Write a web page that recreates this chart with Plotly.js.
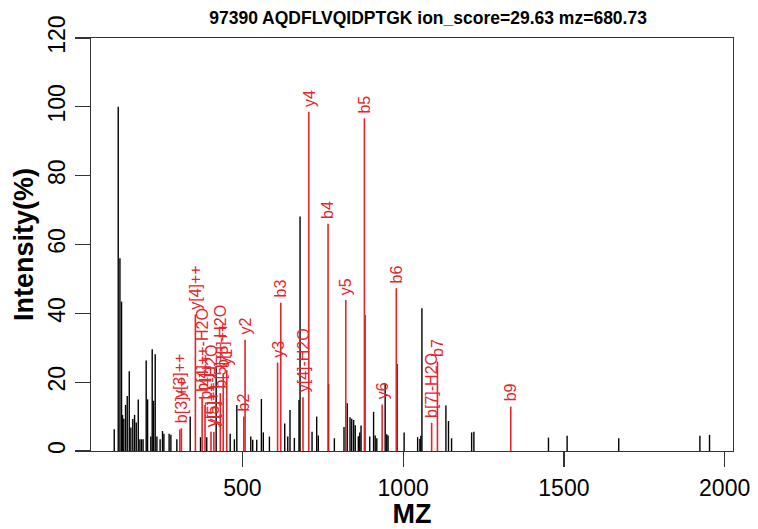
<!DOCTYPE html>
<html><head><meta charset="utf-8">
<script src="https://cdn.plot.ly/plotly-3.0.1.min.js"></script>
<style>html,body{margin:0;padding:0;background:#fff}#chart{width:758px;height:529px}</style>
</head><body><div id="chart"></div>
<script>
const titleText = '97390 AQDFLVQIDPTGK ion_score=29.63 mz=680.73';
const xTicks = [500, 1000, 1500, 2000];
const yTicks = [0, 20, 40, 60, 80, 100, 120];

// unmatched (black) peaks
const peakMz = [101.3,113.7,119,124,127,131,136.5,141.7,148,153,159,164.5,169.7,176,181,186,191,200.7,205,215,219.4,223.5,228.7,234,244,251.4,255.7,272,277.5,296,337.6,369.6,389,418.3,462,475,482.6,526,532,544.6,559,565,584,631.6,641,648,661.6,676,679.3,716.6,731,736,768,786,816,826,834.7,840,846,851,860.5,865,869,881,896,908,913,918,944,949,953,981,1003,1045,1052,1055,1058.4,1133,1141,1150.6,1213,1220,1452,1510,1670.6,1923,1953];
const peakInt = [6.3,100,56,43.4,10.5,9.4,13.4,16,23.2,6.8,9.3,10.5,8.3,15,3.4,3.4,3.4,26.3,15,4.2,29.6,14.6,28.1,4.2,3.4,5.8,5,5,4.7,3.4,10,4,4,24.7,5,3.4,13.4,4.2,3.3,3.3,15.1,5.4,4.2,8,4.2,11.9,3.8,14.8,68.1,5.6,10,4.5,19.5,3.7,7,13.9,9.8,9.4,9,7.5,4.3,5.4,7.4,39.5,4.2,11.4,4.5,3.7,19.7,4.9,4.5,25.3,5.4,4,3.5,4.4,41.5,13.2,8.7,3.7,5.4,5.6,3.9,4.4,3.7,4.4,4.7];

// matched (red) fragment ions
const ionLabel = ['y[3]++','b[3]++','y[4]++','b[4]++-H2O','b[4]++','y[5]++-H2O','y[5]++','b[5]++-H2O','b[5]++','y1','b2','y2','y3','b3','y[4]-H2O','y4','b4','y5','b5','y6','b6','b[7]-H2O','b7','b9'];
const ionMz = [305.2,310.2,353.7,374.7,383.7,402.2,411.2,431.2,440.2,451.3,504.3,508.3,609.4,619.3,688.4,706.4,766.4,821.5,879.5,934.6,978.6,1088.6,1106.6,1334.7];
const ionInt = [6.3,6.6,39.7,15.8,13.4,5.6,5.6,16.8,22.6,23.5,10,32.3,25.7,43.1,15.6,98.6,66,43.9,96.7,13.5,47.3,8.2,26,12.9];

const RED = '#e3262b';

function sticks(mz, it) {
  const x = [], y = [];
  mz.forEach((m, i) => { x.push(m, m, null); y.push(0, it[i], null); });
  return {x, y};
}
const blk = sticks(peakMz, peakInt);
const red = sticks(ionMz, ionInt);

const traces = [
  {type:'scatter', mode:'lines', x:blk.x, y:blk.y, line:{color:'#000', width:1.4}, hoverinfo:'skip', showlegend:false},
  {type:'scatter', mode:'lines', x:red.x, y:red.y, line:{color:RED, width:1.6}, hoverinfo:'skip', showlegend:false}
];

// extra label lift (px) where the reference stacks overlapping labels
const labelLift = {'y[3]++': 26};

const annotations = ionLabel.map((t, i) => ({
  x: ionMz[i], y: ionInt[i], xref:'x', yref:'y', text: t, textangle:-90,
  showarrow:false, xanchor:'center', yanchor:'bottom', yshift:3 + (labelLift[t] || 0),
  font:{family:'Liberation Sans, Arial, sans-serif', size:16, color:RED}
}));

const layout = {
  width:758, height:529,
  margin:{l:91, r:25, t:38, b:78, pad:0},
  paper_bgcolor:'#fff', plot_bgcolor:'#fff',
  font:{family:'Liberation Sans, Arial, sans-serif', color:'#000'},
  title:{text:'<b>'+titleText+'</b>', x:398/758, xref:'paper', xanchor:'center', y:1-18/529, yanchor:'middle', font:{size:17.5, color:'#000'}},
  xaxis:{range:[29,2026], tickvals:xTicks, ticktext:xTicks.map(String), ticks:'outside', ticklen:15, tickwidth:1.3, tickcolor:'#333',
    showline:true, linecolor:'#333', linewidth:1.3, mirror:true, showgrid:false, zeroline:false,
    tickfont:{size:23}, ticklabelstandoff:1,
    title:{text:'<b>MZ</b>', font:{size:27}, standoff:2}},
  yaxis:{range:[0,120], tickvals:yTicks, ticktext:yTicks.map(String), ticks:'outside', ticklen:15, tickwidth:1.3, tickcolor:'#333',
    showline:true, linecolor:'#333', linewidth:1.3, mirror:true, showgrid:false, zeroline:false,
    tickfont:{size:23}, tickangle:-90, ticklabelstandoff:1,
    title:{text:'<b>Intensity(%)</b>', font:{size:27}, standoff:2}},
  annotations: annotations
};

Plotly.newPlot('chart', traces, layout, {staticPlot:true, displayModeBar:false});
</script>
</body></html>
